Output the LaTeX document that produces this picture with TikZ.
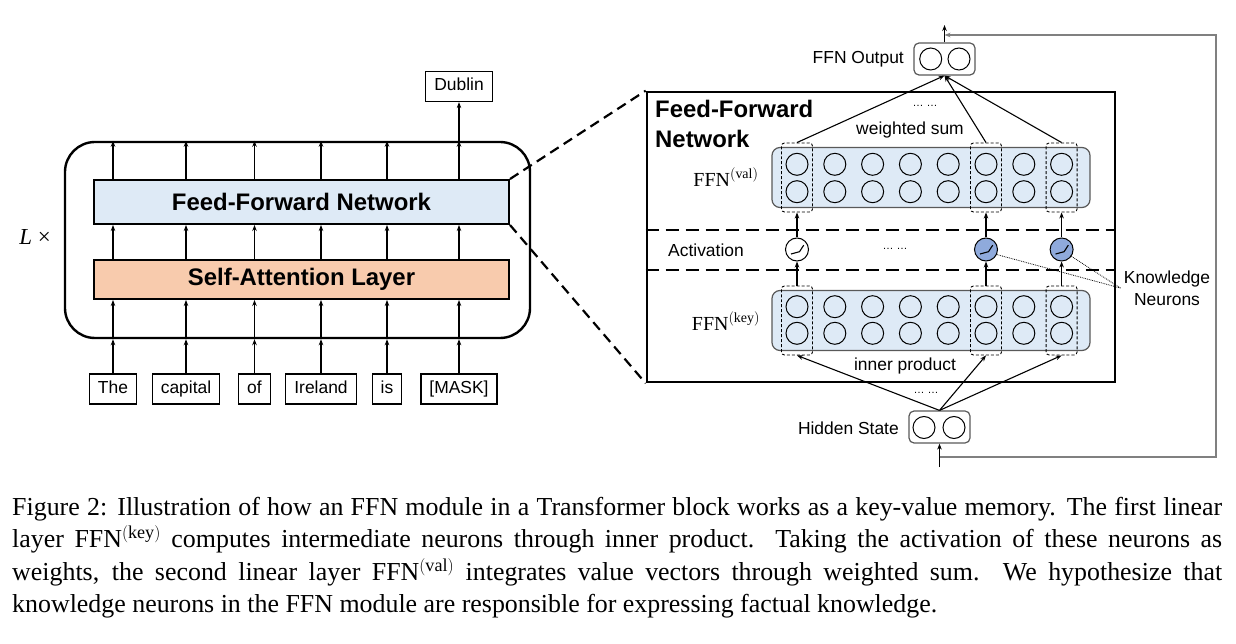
\documentclass[tikz,border=0pt]{standalone}
\usepackage{fontspec}
\setmainfont{Liberation Serif}
\setsansfont{Liberation Sans}
\usetikzlibrary{arrows.meta, positioning, calc}

\definecolor{ffnblue}{RGB}{222,234,246}
\definecolor{attnpeach}{RGB}{248,203,173}
\definecolor{knblue}{RGB}{143,170,220}
\definecolor{boxgray}{RGB}{89,89,89}

\begin{document}
\begin{tikzpicture}[x=1bp, y=-1bp, >={Stealth[length=6bp,width=4.5bp]},
    font=\sffamily\fontsize{17.5}{21}\selectfont,
    layerbox/.style={draw, line width=2bp, minimum width=415bp, font=\sffamily\bfseries\fontsize{24}{28}\selectfont},
    tokbox/.style={draw, line width=1.2bp, minimum height=30bp, inner xsep=8.5bp, inner ysep=0pt, text height=13bp, text depth=4bp},
    flowarrow/.style={->, line width=1.1bp},
    matbox/.style={draw=boxgray, line width=1.2bp, fill=ffnblue, rounded corners=8bp, minimum width=318bp, minimum height=60bp},
    neuron/.style={draw, circle, line width=1bp, minimum size=22bp, inner sep=0pt},
    selbox/.style={draw, densely dashed, line width=0.9bp, rounded corners=3bp, minimum width=31bp, minimum height=69bp},
    actcirc/.style={draw, circle, line width=1bp, minimum size=23bp, inner sep=0pt},
    vecbox/.style={draw=boxgray, line width=1.2bp, rounded corners=5bp, minimum width=61bp, minimum height=32bp},
    matname/.style={font=\rmfamily\fontsize{20}{24}\selectfont},
    zoomline/.style={line width=2.2bp, dash pattern=on 10bp off 6bp},
    sepline/.style={line width=2.6bp, dash pattern=on 13bp off 7bp},
    dotline/.style={densely dotted, line width=0.8bp},
    smalldots/.style={font=\sffamily\fontsize{11}{12}\selectfont}]
    \useasboundingbox (0,0) rectangle (1236,644);

    % Transformer block
    \node[draw, line width=2.4bp, rounded corners=30bp, minimum width=465bp, minimum height=196bp] (block) at (297.5,240) {};
    \node[layerbox, fill=ffnblue, minimum height=44bp] (ffn) at (301.5,202) {Feed-Forward Network};
    \node[layerbox, fill=attnpeach, minimum height=39bp] (attn) at (301.5,279.5) {Self-Attention Layer};
    \node[font=\rmfamily\fontsize{23}{26}\selectfont] (rep) at (35,237) {\textit{L} ×};

    % Input tokens
    \foreach \i/\x/\word in {1/113/The, 2/186/capital, 3/254.5/of, 4/321/Ireland, 5/387/is, 6/459/{[MASK]}}
        \node[tokbox] (t\i) at (\x,389) {\word};
    \node[tokbox] (pred) at (459,86.5) {Dublin};

    \foreach \i in {1,...,6} {
        \draw[flowarrow] (t\i) -- (t\i |- block.south);
        \draw[flowarrow] (t\i |- block.south) -- (t\i |- attn.south);
        \draw[flowarrow] (t\i |- attn.north) -- (t\i |- ffn.south);
        \draw[flowarrow] (t\i |- ffn.north) -- (t\i |- block.north);
    }
    \draw[flowarrow] (t6 |- block.north) -- (pred);

    % Zoomed FFN
    \node[draw, line width=2.6bp, minimum width=468bp, minimum height=290bp] (ffnbig) at (881,237) {};
    \node[anchor=north west, align=left, inner sep=0pt, font=\sffamily\bfseries\fontsize{24}{30}\selectfont] (ffntitle) at (655,100) {Feed-Forward\\Network};
    \draw[zoomline] (ffn.north east) -- (ffnbig.north west);
    \draw[zoomline] (ffn.south east) -- (ffnbig.south west);

    \coordinate (sepa) at (0,230);
    \coordinate (sepb) at (0,270);
    \draw[sepline] (ffnbig.west |- sepa) -- (ffnbig.east |- sepa);
    \draw[sepline] (ffnbig.west |- sepb) -- (ffnbig.east |- sepb);

    % Key and value matrices
    \node[matbox] (val) at (931,177.5) {};
    \node[matbox] (key) at (931,320.5) {};
    \foreach \c in {1,...,8} {
        \pgfmathsetmacro{\cx}{797+37.8*(\c-1)}
        \node[neuron] (vt\c) at (\cx,164.3) {};
        \node[neuron] (vb\c) at (\cx,191.7) {};
        \node[neuron] (kt\c) at (\cx,306.7) {};
        \node[neuron] (kb\c) at (\cx,333.3) {};
    }

    \node[matname] (valname) at (726,177) {FFN$^{(\mathrm{val})}$};
    \node[matname] (keyname) at (726,321) {FFN$^{(\mathrm{key})}$};
    \node (actname) at (706,250) {Activation};

    % FFN output and hidden state
    \node[vecbox] (outp) at (944.5,59) {};
    \node[neuron] (oc1) at (930.7,59) {};
    \node[neuron] (oc2) at (959,59) {};
    \node[anchor=east, inner sep=0pt] (outname) at (904,59) {FFN Output};

    \node[vecbox] (hid) at (939.5,427) {};
    \node[neuron] (hc1) at (924,427.5) {};
    \node[neuron] (hc2) at (954,427.5) {};
    \node[anchor=east, inner sep=0pt] (hidname) at (899,428) {Hidden State};

    % Selected neurons
    \foreach \c/\col in {1/white, 6/knblue, 8/knblue} {
        \pgfmathsetmacro{\cx}{797+37.8*(\c-1)}
        \node[selbox] (vs\c) at (\cx,177.5) {};
        \node[selbox] (ks\c) at (\cx,320.5) {};
        \node[actcirc, fill=\col] (a\c) at (\cx,249.5) {};
        \draw[line width=1.1bp] ([shift={(-6,4.5)}]a\c.center) -- ++(8.5,-2.3) -- ++(4.2,-6.5);
        \draw[flowarrow] (ks\c) -- (a\c);
        \draw[flowarrow] (a\c) -- (vs\c);
        \draw[flowarrow] (vs\c.north) -- (outp.south);
        \draw[flowarrow] (hid.north) -- (ks\c.south);
    }

    \node (wsum) at (910,130) {weighted sum};
    \node (iprod) at (905,366) {inner product};
    \node[smalldots] (dotsv) at (925,106) {\dots\ \dots};
    \node[smalldots] (dotsa) at (895,249) {\dots\ \dots};
    \node[smalldots] (dotsk) at (926,393) {\dots\ \dots};

    \node[align=center, font=\sffamily\fontsize{17.5}{22}\selectfont] (kn) at (1167,288) {Knowledge\\Neurons};
    \draw[dotline] (a6.-25) -- (kn.west);
    \draw[dotline] (a8.-35) -- (kn.west);

    % Residual path
    \coordinate (ffnout) at (944.5,25);
    \coordinate (hidin) at (939.5,467);
    \coordinate (res) at (939.5,457);
    \coordinate (resr) at (1216,457);
    \coordinate (rest) at (1216,35);
    \draw[flowarrow] (outp) -- (ffnout);
    \draw[flowarrow] (hidin) -- (hid);
    \draw[->, gray, line width=1.2bp] (res) -- (resr) -- (rest) -- (rest -| outp.north);

    % Caption
    \node[anchor=north west, inner sep=0pt, text width=1210bp, align=justify,
        font=\rmfamily\fontsize{26}{32.5}\selectfont] (caption) at (12,497)
        {\hyphenpenalty=10000 \exhyphenpenalty=10000
        Figure 2: Illustration of how an FFN module in a Transformer block works as a key-value memory. The first linear\linebreak
        layer FFN$^{(\mathrm{key})}$ computes intermediate neurons through inner product. Taking the activation of these neurons as\linebreak
        weights, the second linear layer FFN$^{(\mathrm{val})}$ integrates value vectors through weighted sum. We hypothesize that\linebreak
        knowledge neurons in the FFN module are responsible for expressing factual knowledge.};
\end{tikzpicture}
\end{document}
